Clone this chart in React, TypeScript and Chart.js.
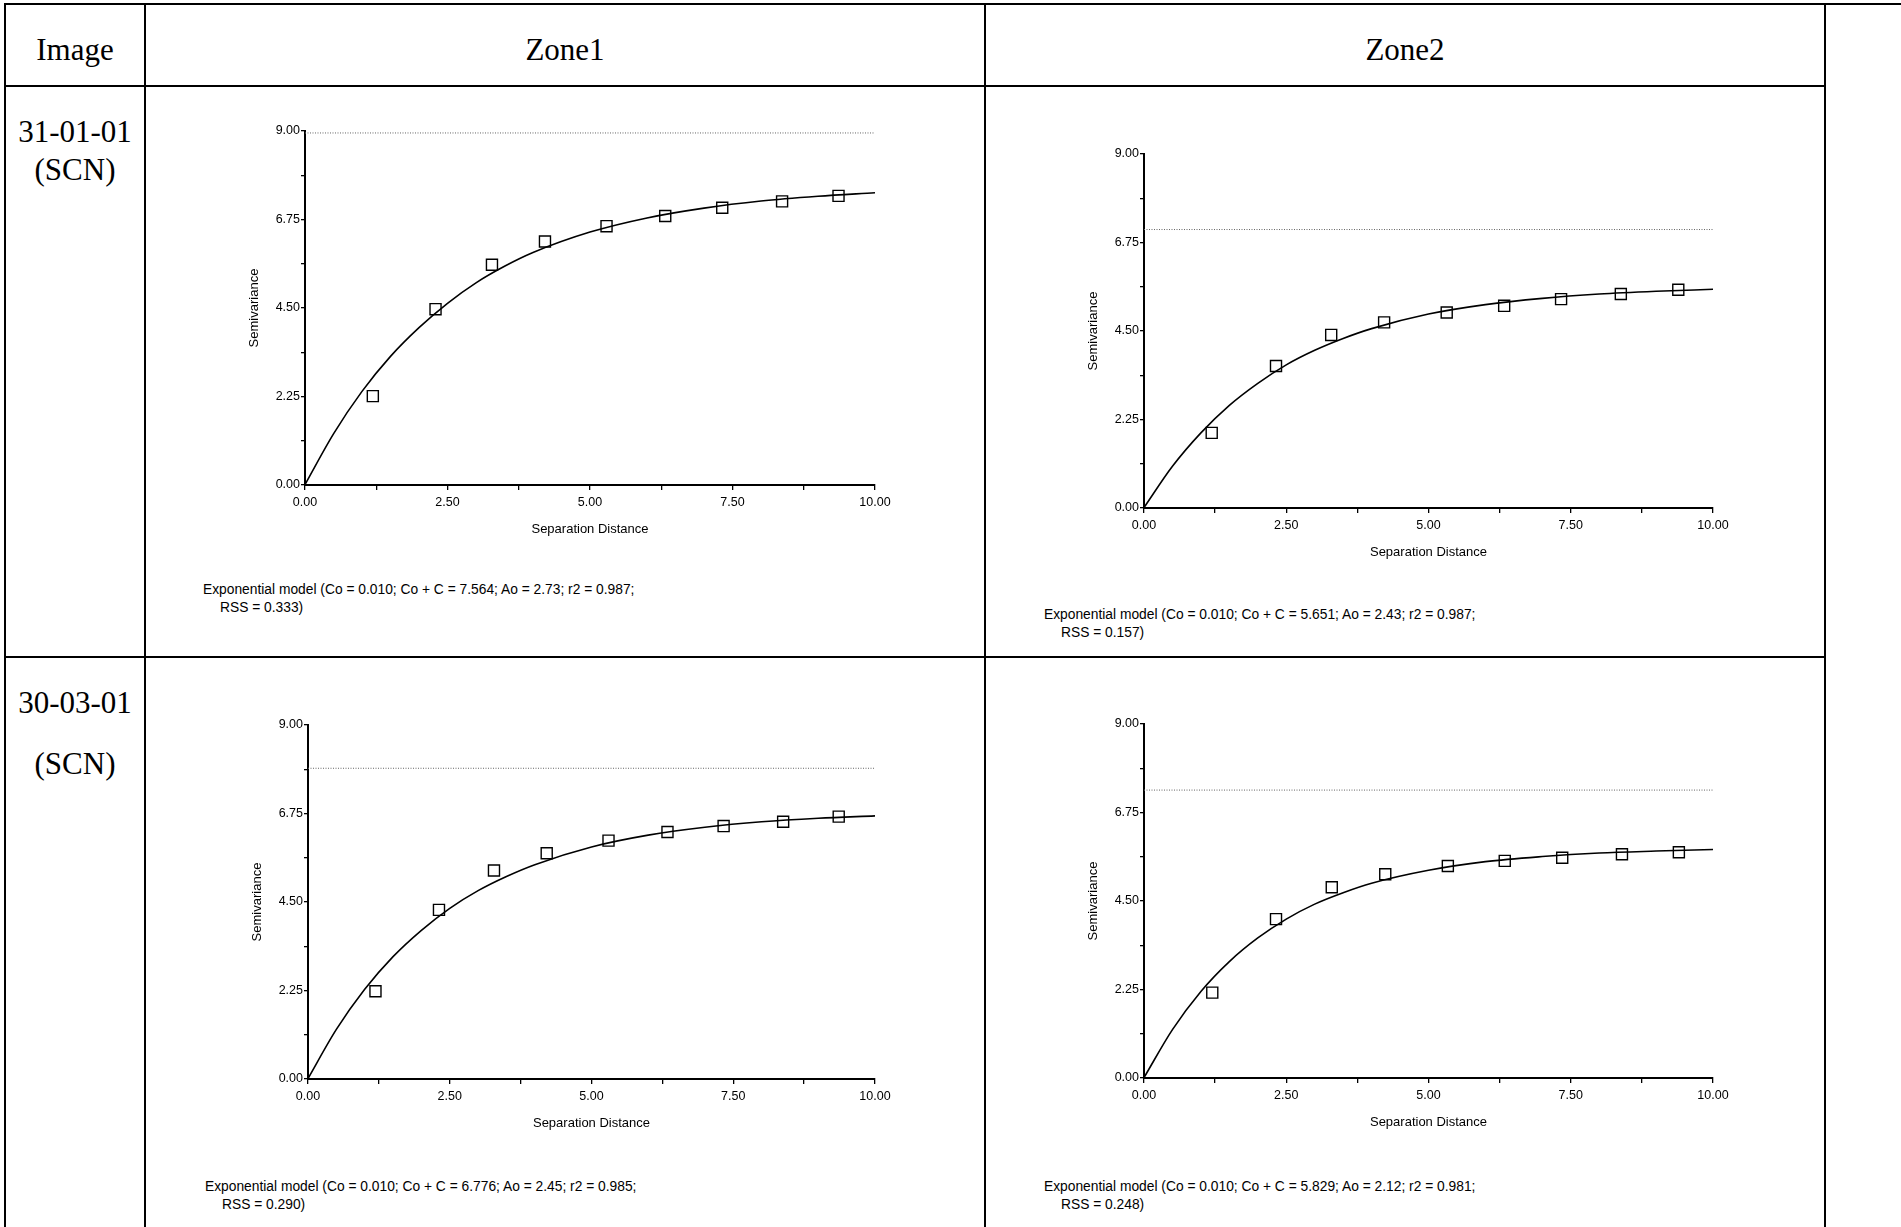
import React, { useEffect, useRef } from 'react';
import { Chart, registerables } from 'chart.js';

Chart.register(...registerables);

// ---------- data ----------
const columnHeaders = ['Image', 'Zone1', 'Zone2'];
const rowLabels = [['31-01-01', '(SCN)'], ['30-03-01', '(SCN)']];

const xTickLabels = ['0.00', '2.50', '5.00', '7.50', '10.00'];
const yTickLabels = ['0.00', '2.25', '4.50', '6.75', '9.00'];

// experimental semivariogram (lag distance, semivariance)
const lag1X = [1.19, 2.29, 3.28, 4.21, 5.29, 6.32, 7.32, 8.37, 9.36];
const lag1Y = [2.26, 4.47, 5.60, 6.19, 6.58, 6.84, 7.05, 7.21, 7.35];
const lag2X = [1.19, 2.32, 3.29, 4.22, 5.32, 6.33, 7.33, 8.38, 9.39];
const lag2Y = [1.91, 3.61, 4.40, 4.72, 4.97, 5.14, 5.31, 5.44, 5.55];
const lag3X = [1.19, 2.31, 3.28, 4.21, 5.30, 6.34, 7.33, 8.38, 9.36];
const lag3Y = [2.23, 4.30, 5.30, 5.74, 6.06, 6.28, 6.43, 6.54, 6.67];
const lag4X = [1.20, 2.32, 3.30, 4.24, 5.34, 6.34, 7.35, 8.40, 9.40];
const lag4Y = [2.17, 4.04, 4.85, 5.18, 5.39, 5.52, 5.60, 5.69, 5.74];

// fitted model curve
const curveX = [0, 0.5, 1, 1.5, 2, 2.5, 3, 3.5, 4, 5, 6, 7, 8, 9, 10];
const curve1Y = [0.01, 1.30, 2.38, 3.27, 4.00, 4.62, 5.14, 5.56, 5.91, 6.43, 6.79, 7.04, 7.22, 7.34, 7.43];
const curve2Y = [0.01, 1.06, 1.91, 2.61, 3.17, 3.64, 4.01, 4.31, 4.56, 4.93, 5.17, 5.33, 5.44, 5.51, 5.56];
const curve3Y = [0.01, 1.26, 2.28, 3.11, 3.78, 4.34, 4.79, 5.15, 5.45, 5.90, 6.20, 6.40, 6.54, 6.63, 6.69];
const curve4Y = [0.01, 1.23, 2.20, 2.96, 3.56, 4.04, 4.42, 4.71, 4.95, 5.28, 5.50, 5.63, 5.72, 5.77, 5.81];

// dotted reference line (sample variance)
const sampleVariance = [8.95, 7.08, 7.9, 7.32];

const modelLines = [
  ['Exponential model (Co = 0.010; Co + C = 7.564; Ao = 2.73; r2 = 0.987;', 'RSS = 0.333)'],
  ['Exponential model (Co = 0.010; Co + C = 5.651; Ao = 2.43; r2 = 0.987;', 'RSS = 0.157)'],
  ['Exponential model (Co = 0.010; Co + C = 6.776; Ao = 2.45; r2 = 0.985;', 'RSS = 0.290)'],
  ['Exponential model (Co = 0.010; Co + C = 5.829; Ao = 2.12; r2 = 0.981;', 'RSS = 0.248)'],
];

const SANS = '"Liberation Sans", Arial, sans-serif';
const SERIF = '"Liberation Serif", "Times New Roman", serif';

type PanelProps = {
  left: number; top: number; w: number; h: number;
  lagX: number[]; lagY: number[]; curveY: number[]; sill: number;
};

const Y_W = 58;
const X_H = 52;
const PAD_T = 15;
const PAD_R = 30;

function Panel(p: PanelProps) {
  const ref = useRef<HTMLCanvasElement>(null);
  useEffect(() => {
    const near = (v: number, step: number) => Math.abs(v / step - Math.round(v / step)) < 1e-6;
    const chart = new Chart(ref.current as HTMLCanvasElement, {
      type: 'scatter',
      data: {
        datasets: [
          {
            type: 'scatter',
            data: p.lagX.map((x, i) => ({ x, y: p.lagY[i] })),
            pointStyle: 'rect',
            pointRadius: 7.8,
            borderColor: '#000',
            backgroundColor: 'rgba(0,0,0,0)',
            borderWidth: 1.4,
          } as any,
          {
            type: 'line',
            data: curveX.map((x, i) => ({ x, y: p.curveY[i] })),
            borderColor: '#000',
            borderWidth: 1.6,
            pointRadius: 0,
            cubicInterpolationMode: 'monotone',
            fill: false,
          } as any,
          {
            type: 'line',
            data: [{ x: 0, y: p.sill }, { x: 10, y: p.sill }],
            borderColor: '#666',
            borderWidth: 1,
            borderDash: [1, 1.5],
            pointRadius: 0,
            fill: false,
          } as any,
        ],
      },
      options: {
        animation: false,
        responsive: false,
        maintainAspectRatio: false,
        devicePixelRatio: 1,
        events: [],
        layout: { padding: { top: PAD_T, right: PAD_R, left: 0, bottom: 0 } },
        plugins: { legend: { display: false }, tooltip: { enabled: false } },
        scales: {
          x: {
            type: 'linear',
            min: 0,
            max: 10,
            afterFit: (s: any) => { s.height = X_H; },
            border: { display: true, color: '#000', width: 2 },
            grid: { drawOnChartArea: false, drawTicks: true, tickLength: 5, color: '#000', lineWidth: 1.3 },
            ticks: {
              stepSize: 1.25,
              autoSkip: false,
              maxRotation: 0,
              padding: 5,
              color: '#000',
              font: { family: SANS, size: 12.5 },
              callback: (v: any) => (near(Number(v), 2.5) ? xTickLabels[Math.round(Number(v) / 2.5)] : ''),
            },
            title: { display: true, text: 'Separation Distance', color: '#000', font: { family: SANS, size: 13 }, padding: 0 },
          },
          y: {
            type: 'linear',
            min: 0,
            max: 9,
            afterFit: (s: any) => { s.width = Y_W; },
            border: { display: true, color: '#000', width: 2 },
            grid: { drawOnChartArea: false, drawTicks: true, tickLength: 4, color: '#000', lineWidth: 1.3 },
            ticks: {
              stepSize: 1.125,
              autoSkip: false,
              padding: 1,
              color: '#000',
              font: { family: SANS, size: 12.5 },
              callback: (v: any) => (near(Number(v), 2.25) ? yTickLabels[Math.round(Number(v) / 2.25)] : ''),
            },
            title: { display: true, text: 'Semivariance', color: '#000', font: { family: SANS, size: 13 }, padding: 0 },
          },
        },
      } as any,
    });
    return () => chart.destroy();
  }, []);
  const cw = Y_W + p.w + PAD_R;
  const ch = PAD_T + p.h + X_H;
  return (
    <canvas
      ref={ref}
      width={cw}
      height={ch}
      style={{ position: 'absolute', left: p.left - Y_W, top: p.top - PAD_T, width: cw, height: ch }}
    />
  );
}

function Line(props: { x: number; y: number; w: number; h: number }) {
  return <div style={{ position: 'absolute', left: props.x, top: props.y, width: props.w, height: props.h, background: '#000' }} />;
}

function CenterText(props: { cx: number; cy: number; text: string; size: number }) {
  return (
    <div
      style={{
        position: 'absolute', left: props.cx - 150, top: props.cy - 18, width: 300, height: 36,
        lineHeight: '36px', textAlign: 'center', fontFamily: SERIF, fontSize: props.size, color: '#000', whiteSpace: 'pre',
      }}
    >
      {props.text}
    </div>
  );
}

function ModelText(props: { x: number; y: number; lines: string[] }) {
  return (
    <div style={{ position: 'absolute', left: props.x, top: props.y - 9, fontFamily: SANS, fontSize: 13.8, lineHeight: '18px', color: '#000', whiteSpace: 'pre' }}>
      <div>{props.lines[0]}</div>
      <div style={{ paddingLeft: 17 }}>{props.lines[1]}</div>
    </div>
  );
}

export default function App() {
  useEffect(() => {
    document.body.style.margin = '0';
  }, []);
  return (
    <div style={{ position: 'absolute', left: 0, top: 0, width: 1901, height: 1227, background: '#fff', overflow: 'hidden' }}>
      {/* table rules */}
      <Line x={4} y={3} w={1897} h={2} />
      <Line x={4} y={85} w={1822} h={2} />
      <Line x={4} y={656} w={1822} h={2} />
      <Line x={4} y={3} w={1.5} h={1224} />
      <Line x={144} y={3} w={1.5} h={1224} />
      <Line x={984} y={3} w={1.5} h={1224} />
      <Line x={1824} y={3} w={1.5} h={1224} />

      <CenterText cx={75} cy={50} text={columnHeaders[0]} size={31} />
      <CenterText cx={565} cy={50} text={columnHeaders[1]} size={31} />
      <CenterText cx={1405} cy={50} text={columnHeaders[2]} size={31} />

      <CenterText cx={75} cy={132} text={rowLabels[0][0]} size={31} />
      <CenterText cx={75} cy={170} text={rowLabels[0][1]} size={31} />
      <CenterText cx={75} cy={703} text={rowLabels[1][0]} size={31} />
      <CenterText cx={75} cy={764} text={rowLabels[1][1]} size={31} />

      <Panel left={305} top={131} w={570} h={354} lagX={lag1X} lagY={lag1Y} curveY={curve1Y} sill={sampleVariance[0]} />
      <Panel left={1144} top={154} w={569} h={354} lagX={lag2X} lagY={lag2Y} curveY={curve2Y} sill={sampleVariance[1]} />
      <Panel left={308} top={725} w={567} h={354} lagX={lag3X} lagY={lag3Y} curveY={curve3Y} sill={sampleVariance[2]} />
      <Panel left={1144} top={724} w={569} h={354} lagX={lag4X} lagY={lag4Y} curveY={curve4Y} sill={sampleVariance[3]} />

      <ModelText x={203} y={590} lines={modelLines[0]} />
      <ModelText x={1044} y={615} lines={modelLines[1]} />
      <ModelText x={205} y={1187} lines={modelLines[2]} />
      <ModelText x={1044} y={1187} lines={modelLines[3]} />
    </div>
  );
}
